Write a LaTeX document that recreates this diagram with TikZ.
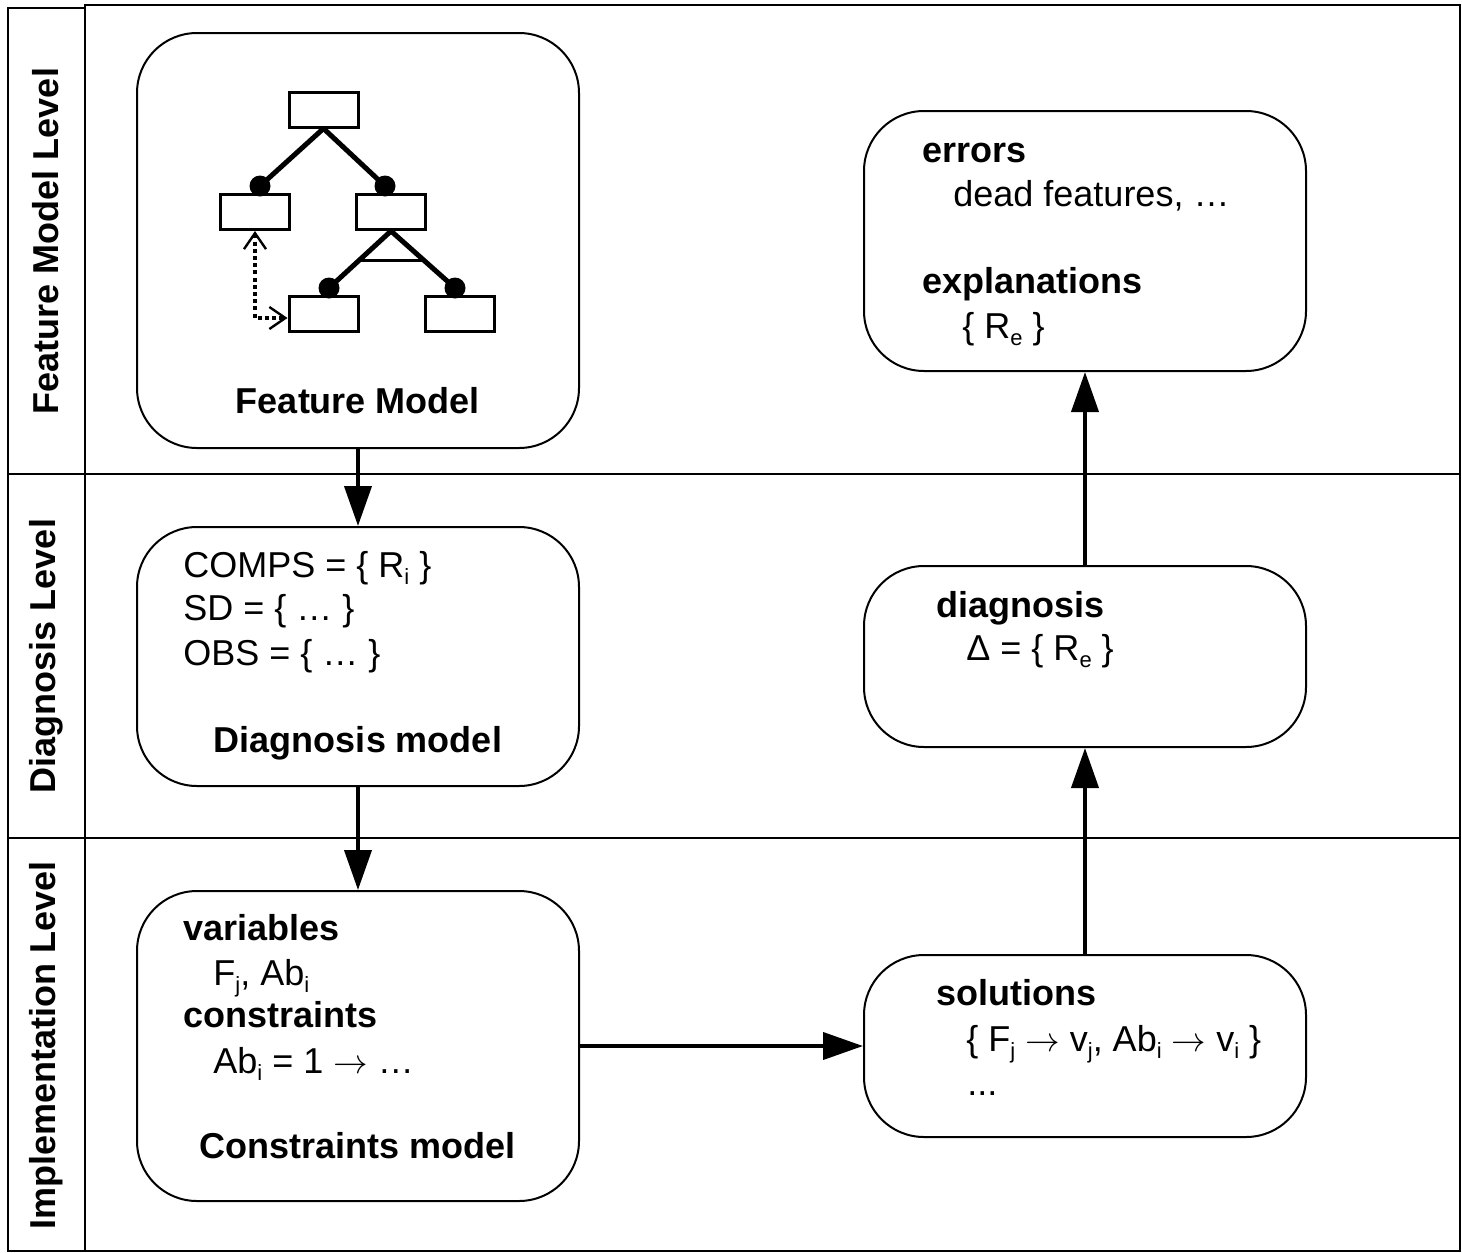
\documentclass[tikz,border=0pt]{standalone}
\usepackage{fontspec}
\setmainfont{Liberation Sans}
\usetikzlibrary{arrows.meta,calc}
% lowered index in the text font
\newcommand\ix[1]{\raisebox{-0.4ex}{\fontsize{11}{11}\selectfont #1}}
\newcommand\maps{\ensuremath{\rightarrow}}
\begin{document}
\begin{tikzpicture}[x=0.5pt,y=-0.5pt,
  frame/.style={line width=1.1pt},
  modelbox/.style={draw,line width=1pt,rounded corners=30pt,inner sep=0pt,minimum width=221pt},
  txt/.style={font=\fontsize{18}{22}\selectfont,inner sep=0pt,anchor=base west},
  btxt/.style={font=\fontsize{18}{22}\selectfont\bfseries,inner sep=0pt,anchor=base west},
  title/.style={font=\fontsize{18}{22}\selectfont\bfseries,inner sep=0pt,anchor=base},
  lvl/.style={font=\fontsize{18}{22}\selectfont\bfseries,inner sep=0pt,rotate=90},
  flow/.style={line width=2pt,-{Triangle[length=20pt,width=13.5pt]}},
  feat/.style={draw,line width=1.5pt,inner sep=0pt,minimum width=34.5pt,minimum height=17.5pt},
  edge/.style={line width=2.5pt},
  mand/.style={circle,fill,inner sep=0pt,minimum size=10.5pt},
  req/.style={line width=1.6pt,dash pattern=on 2pt off 1.6pt,
    {Straight Barb[length=8pt,width=11pt,line width=1.2pt]}-{Straight Barb[length=8pt,width=11pt,line width=1.2pt]}}
]
\useasboundingbox (0,0) rectangle (1462,1253);

% level frame
\draw[frame] (8,8) rectangle (85,1251);
\draw[frame] (85,5) rectangle (1460,1251);
\draw[frame] (8,474) -- (1460,474);
\draw[frame] (8,838) -- (1460,838);
\node[lvl] (l1) at (46,241) {Feature Model Level};
\node[lvl] (l2) at (46,656) {Diagnosis Level};
\node[lvl] (l3) at (46,1045) {Implementation Level};

% model boxes
\node[modelbox,minimum height=207.5pt] (fm) at (358,240.5) {};
\node[modelbox,minimum height=129.5pt] (dm) at (358,656.5) {};
\node[modelbox,minimum height=155pt] (cm) at (358,1046) {};
\node[modelbox,minimum height=130pt] (err) at (1085,241) {};
\node[modelbox,minimum height=90.5pt] (diag) at (1085,656.5) {};
\node[modelbox,minimum height=91pt] (sol) at (1085,1046) {};

% feature tree
\node[feat] (f0) at (323.5,109.5) {};
\node[feat] (f1) at (255,212) {};
\node[feat] (f2) at (391,212) {};
\node[feat] (f3) at (323.5,314) {};
\node[feat] (f4) at (459.5,314) {};
\node[mand] (d1) at (260,186) {};
\node[mand] (d2) at (385,186) {};
\node[mand] (d3) at (329,288) {};
\node[mand] (d4) at (455,288) {};
\draw[edge] (f0.south) -- (d1.center);
\draw[edge] (f0.south) -- (d2.center);
\draw[edge] (f2.south) -- (d3.center);
\draw[edge] (f2.south) -- (d4.center);
\draw[line width=1.4pt] ($(f2.south)!0.52!(d3.center)$) -- ($(f2.south)!0.52!(d4.center)$);
\draw[req] (f1.south) |- ($(f3.west)+(0,4)$);
\node[title] (fmt) at (358,413) {Feature Model};

% diagnosis model
\node[txt] (c1) at (183,577) {COMPS = \{ R\ix{i} \}};
\node[txt] (c2) at (183,620) {SD = \{ … \}};
\node[txt] (c3) at (183,665) {OBS = \{ … \}};
\node[title] (dmt) at (358,752) {Diagnosis model};

% constraints model
\node[btxt] (v1) at (183,940) {variables};
\node[txt] (v2) at (213,985) {F\ix{j}, Ab\ix{i}};
\node[btxt] (v3) at (183,1027) {constraints};
\node[txt] (v4) at (213,1073) {Ab\ix{i} = 1 \maps{} …};
\node[title] (cmt) at (358,1158) {Constraints model};

% results
\node[btxt] (e1) at (922,162) {errors};
\node[txt] (e2) at (953,206) {dead features, …};
\node[btxt] (e3) at (922,293) {explanations};
\node[txt] (e4) at (962,338) {\{ R\ix{e} \}};

\node[btxt] (g1) at (936,617) {diagnosis};
\node[txt] (g2) at (966,660) {Δ = \{ R\ix{e} \}};

\node[btxt] (s1) at (936,1005) {solutions};
\node[txt] (s2) at (966,1051) {\{ F\ix{j} \maps{} v\ix{j}, Ab\ix{i} \maps{} v\ix{i} \}};
\node[txt] (s3) at (967,1095) {...};

% flow between the models
\draw[flow] (fm.south) -- (dm.north);
\draw[flow] (dm.south) -- (cm.north);
\draw[flow] (cm.east) -- (cm.east -| sol.west);
\draw[flow] (sol.north) -- (diag.south);
\draw[flow] (diag.north) -- (err.south);
\end{tikzpicture}
\end{document}
